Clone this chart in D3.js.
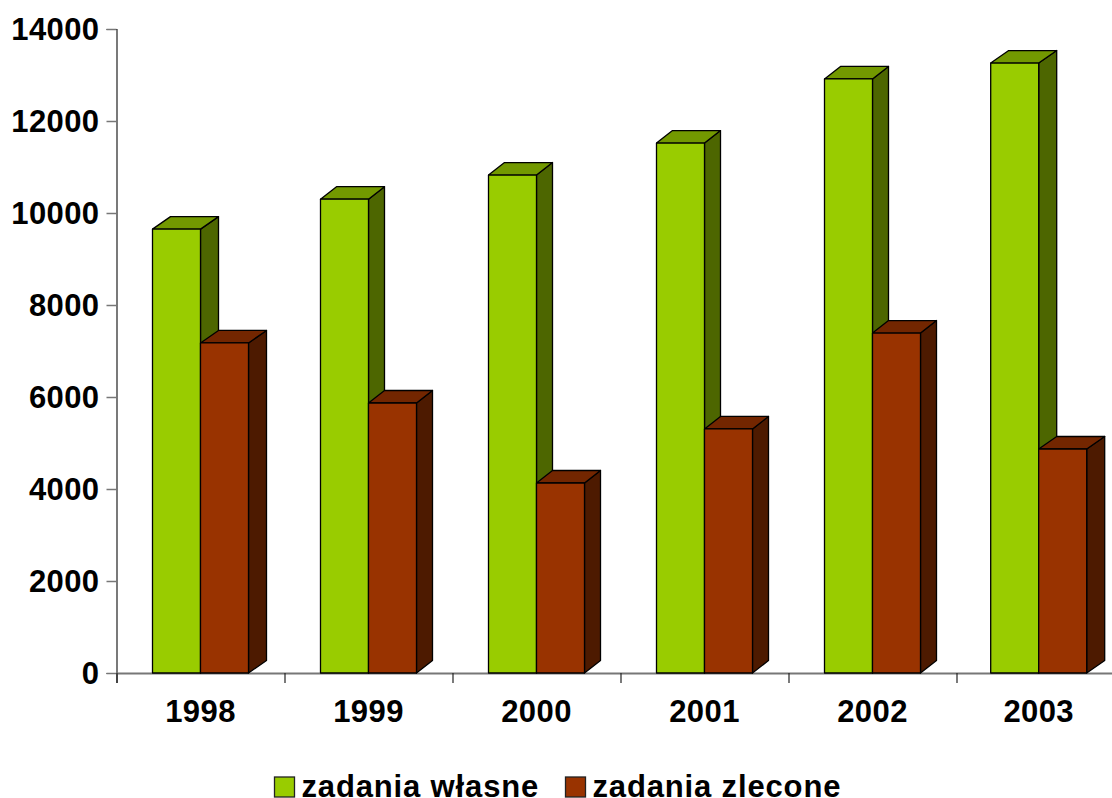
<!DOCTYPE html>
<html>
<head>
  <meta charset="utf-8">
  <title>zadania</title>
  <script src="https://d3js.org/d3.v7.min.js"></script>
  <style>
    html, body { margin: 0; padding: 0; background: #fff; }
    svg { display: block; }
    text { font-family: "Liberation Sans", Arial, sans-serif; font-weight: bold; fill: #000; }
    .bar path { stroke: #000; stroke-width: 1.3; stroke-linejoin: round; }
  </style>
</head>
<body>
<svg id="chart" width="1112" height="798"></svg>
<script>
// values
var years = ['1998', '1999', '2000', '2001', '2002', '2003'];
var seriesNames = ['zadania własne', 'zadania zlecone'];
var wlasne = [9650, 10300, 10825, 11520, 12915, 13260];
var zlecone = [7175, 5870, 4130, 5305, 7390, 4870];
var yTicks = [0, 2000, 4000, 6000, 8000, 10000, 12000, 14000];

var faceColors = ['#99cc00', '#993300'];
var topColors = ['#739900', '#732600'];
var sideColors = ['#4d6600', '#4d1a00'];

var svg = d3.select('#chart');

var x0 = 116.5, xEnd = 1124.5, y0 = 673, yTop = 29;
var depthY = 12.5;

var xScale = d3.scaleBand().domain(years).range([x0, xEnd]);
var seriesScale = d3.scaleBand().domain(seriesNames).range([36, 132]);
var yScale = d3.scaleLinear().domain([0, 14000]).range([y0, yTop]);

// y axis
var yAxis = d3.axisLeft(yScale).tickValues(yTicks).tickSize(10).tickPadding(7).tickFormat(d3.format('d'));
var gy = svg.append('g').attr('transform', 'translate(' + x0 + ',0)').call(yAxis);
gy.select('.domain').attr('stroke', '#222').attr('stroke-width', 1.2);
gy.selectAll('.tick line').attr('stroke', '#777').attr('stroke-width', 1.5);
gy.selectAll('text').style('font-size', '31px').style('letter-spacing', '0.4px').attr('dy', '0.34em');

// boundary ticks under the x axis
var xTicks = d3.scaleLinear().domain([0, 6]).range([x0, xEnd]);
var gt = svg.append('g').attr('transform', 'translate(0,' + y0 + ')')
  .call(d3.axisBottom(xTicks).tickValues(d3.range(7)).tickSize(10).tickFormat(''));
gt.select('.domain').attr('stroke', '#777').attr('stroke-width', 2);
gt.selectAll('.tick line').attr('stroke', '#222').attr('stroke-width', 1.2);

// year labels
var gx = svg.append('g').attr('transform', 'translate(0,' + y0 + ')')
  .call(d3.axisBottom(xScale).tickSize(0).tickPadding(27));
gx.select('.domain').remove();
gx.selectAll('text').style('font-size', '31px').style('letter-spacing', '0.4px')
  .attr('x', function(d, i) { return i === 5 ? -1.8 : 0; });

function drawBar(group, left, width, value, s, depthX) {
  var top = yScale(value), right = left + width;
  var bar = group.append('g').attr('class', 'bar');
  var line = d3.line();
  bar.append('path').attr('fill', sideColors[s]).attr('d', line([
    [right, top], [right + depthX, top - depthY], [right + depthX, y0 - depthY], [right, y0]
  ]) + 'Z');
  bar.append('path').attr('fill', topColors[s]).attr('d', line([
    [left, top], [left + depthX, top - depthY], [right + depthX, top - depthY], [right, top]
  ]) + 'Z');
  bar.append('path').attr('fill', faceColors[s]).attr('d', line([
    [left, top], [right, top], [right, y0], [left, y0]
  ]) + 'Z');
}

var bars = svg.append('g');
years.forEach(function(year, i) {
  // last group sits a little left of its slot in the original,
  // and the outer groups have a slightly deeper side
  var nudge = i === 5 ? -1.8 : 0;
  var depthX = (i === 0 || i === 5) ? 18 : 16;
  [wlasne, zlecone].forEach(function(vals, s) {
    var left = xScale(year) + seriesScale(seriesNames[s]) + nudge;
    drawBar(bars, left, seriesScale.bandwidth(), vals[i], s, depthX);
  });
});

// legend
var legend = svg.append('g');
var legendX = d3.scaleOrdinal().domain(seriesNames).range([274.5, 565.5]);
seriesNames.forEach(function(name, s) {
  legend.append('rect')
    .attr('x', legendX(name)).attr('y', 777)
    .attr('width', 20).attr('height', 20)
    .attr('fill', faceColors[s]).attr('stroke', '#222').attr('stroke-width', 1.3);
  legend.append('text')
    .attr('x', legendX(name) + 27).attr('y', 797)
    .style('font-size', '31px').style('letter-spacing', '0.85px')
    .text(name);
});
</script>
</body>
</html>
